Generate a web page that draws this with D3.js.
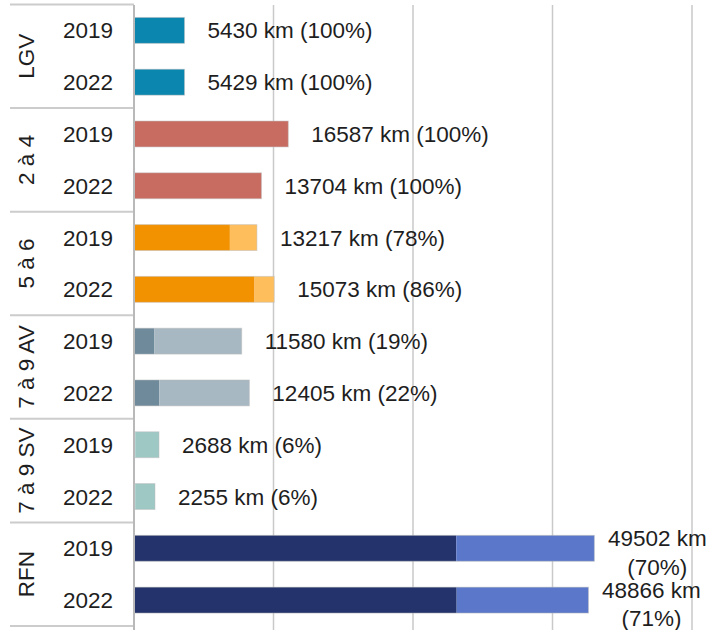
<!DOCTYPE html>
<html>
<head>
<meta charset="utf-8">
<script src="https://cdn.jsdelivr.net/npm/d3@7"></script>
<style>
  body { margin: 0; background: #fff; }
  text { font-family: "Liberation Sans", Arial, sans-serif; fill: #1e1e1e; }
</style>
</head>
<body>
<script>
var categories = ["LGV", "2 à 4", "5 à 6", "7 à 9 AV", "7 à 9 SV", "RFN"],
    years = ["2019", "2022"],
    totals = [[5430, 5429], [16587, 13704], [13217, 15073], [11580, 12405], [2688, 2255], [49502, 48866]],
    percents = [[100, 100], [100, 100], [78, 86], [19, 22], [6, 6], [70, 71]],
    darkColors = ["#0a86af", "#c86b60", "#f39200", "#6f8a9b", "#8fbdb9", "#24336b"],
    lightColors = ["#0a86af", "#c86b60", "#ffbe5c", "#a8b8c2", "#9dc8c4", "#5b77c9"],
    ticks = [0, 15000, 30000, 45000, 60000];

var w = 711,
    h = 630,
    fontSize = "22.5px";

// one row per bar
var rows = [];
categories.forEach(function(c, i) {
    years.forEach(function(y, j) {
        rows.push({
            cat: c,
            year: y,
            ci: i,
            total: totals[i][j],
            pct: percents[i][j],
            dark: totals[i][j] * percents[i][j] / 100
        });
    });
});

var svg = d3.select("body")
    .append("svg")
    .attr("width", w)
    .attr("height", h);

var x = d3.scaleLinear().domain([0, 60000]).range([134, 692]);
var yCat = d3.scaleBand().domain(categories).range([4.5, 626]);
var yYear = d3.scaleBand().domain(years).range([0, yCat.bandwidth()])
    .paddingInner(0.5)
    .paddingOuter(0.25);

function barY(d) { return yCat(d.cat) + yYear(d.year); }
function barMid(d) { return barY(d) + yYear.bandwidth() / 2; }

// vertical gridlines
svg.append("g")
    .selectAll("line")
    .data(ticks.slice(1))
    .enter()
    .append("line")
    .attr("x1", function(d) { return x(d); })
    .attr("x2", function(d) { return x(d); })
    .attr("y1", 5)
    .attr("y2", h)
    .style("stroke", "#c9c9c9")
    .style("stroke-width", 1.5);

// group separators on the left axis
var bounds = categories.map(function(c) { return yCat(c); });
bounds.push(yCat(categories[categories.length - 1]) + yCat.bandwidth());
svg.append("g")
    .selectAll("line")
    .data(bounds)
    .enter()
    .append("line")
    .attr("x1", 10)
    .attr("x2", x(0))
    .attr("y1", function(d) { return d; })
    .attr("y2", function(d) { return d; })
    .style("stroke", "#cccccc")
    .style("stroke-width", 2);

// bars: dark part then light remainder
var bars = svg.append("g");
bars.selectAll("rect.dark")
    .data(rows)
    .enter()
    .append("rect")
    .attr("class", "dark")
    .attr("x", x(0))
    .attr("y", barY)
    .attr("width", function(d) { return x(d.dark) - x(0); })
    .attr("height", yYear.bandwidth())
    .style("fill", function(d) { return darkColors[d.ci]; });

bars.selectAll("rect.light")
    .data(rows.filter(function(d) { return d.pct < 100; }))
    .enter()
    .append("rect")
    .attr("class", "light")
    .attr("x", function(d) { return x(d.dark); })
    .attr("y", barY)
    .attr("width", function(d) { return x(d.total) - x(d.dark); })
    .attr("height", yYear.bandwidth())
    .style("fill", function(d) { return lightColors[d.ci]; });

// faint outline round each bar
bars.selectAll("rect.outline")
    .data(rows)
    .enter()
    .append("rect")
    .attr("class", "outline")
    .attr("x", x(0))
    .attr("y", barY)
    .attr("width", function(d) { return x(d.total) - x(0); })
    .attr("height", yYear.bandwidth())
    .style("fill", "none")
    .style("stroke", "rgba(190,190,190,0.5)")
    .style("stroke-width", 1);

// zero axis line
svg.append("line")
    .attr("x1", x(0))
    .attr("x2", x(0))
    .attr("y1", 5)
    .attr("y2", h)
    .style("stroke", "#b9b9b9")
    .style("stroke-width", 2);

// year labels
svg.append("g")
    .selectAll("text")
    .data(rows)
    .enter()
    .append("text")
    .attr("x", 88)
    .attr("y", barMid)
    .attr("dy", "0.36em")
    .attr("text-anchor", "middle")
    .style("font-size", fontSize)
    .text(function(d) { return d.year; });

// category labels, rotated
svg.append("g")
    .selectAll("text")
    .data(categories)
    .enter()
    .append("text")
    .attr("transform", function(d) {
        return "translate(26," + (yCat(d) + yCat.bandwidth() / 2) + ") rotate(-90)";
    })
    .attr("dy", "0.36em")
    .attr("text-anchor", "middle")
    .style("font-size", fontSize)
    .text(function(d) { return d; });

// value labels
svg.append("g")
    .selectAll("text")
    .data(rows)
    .enter()
    .append("text")
    .style("font-size", fontSize)
    .attr("y", barMid)
    .each(function(d) {
        var t = d3.select(this),
            x0 = x(d.total) + 23;
        t.attr("x", x0).attr("dy", "0.36em").text(d.total + " km (" + d.pct + "%)");
        if (x0 + this.getComputedTextLength() > w) {
            // too long: wrap on two lines, centred, like the original
            t.text(null).attr("dy", null).attr("text-anchor", "middle");
            var cx = x(d.total) + 63;
            t.append("tspan").attr("x", cx).attr("dy", "-0.1em").text(d.total + " km");
            t.append("tspan").attr("x", cx).attr("dy", "1.27em").text("(" + d.pct + "%)");
        }
    });
</script>
</body>
</html>
